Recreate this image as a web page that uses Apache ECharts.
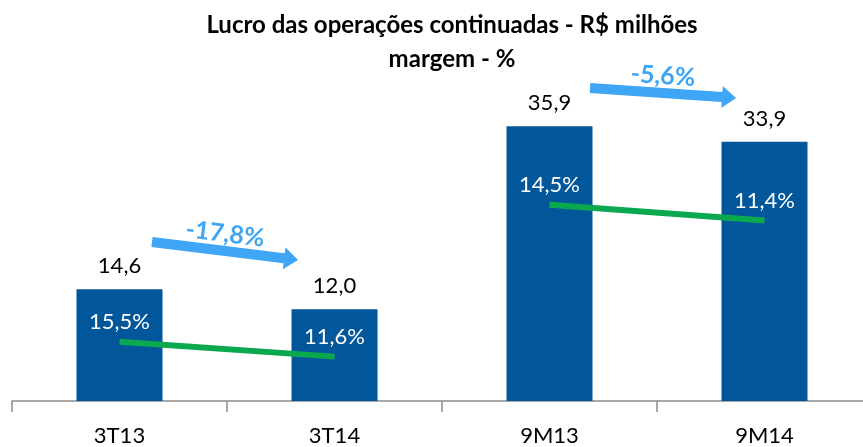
<!DOCTYPE html>
<html>
<head>
<meta charset="utf-8">
<script src="https://cdn.jsdelivr.net/npm/echarts@6/dist/echarts.min.js"></script>
<style>
  html, body { margin: 0; padding: 0; background: #fff; overflow: hidden; }
  #chart { width: 872px; height: 447px; }
</style>
</head>
<body>
<div id="chart"></div>
<script>
// dados
var categorias = ['3T13', '3T14', '9M13', '9M14'];
var lucro = [14.6, 12.0, 35.9, 33.9];
var margemTrimestre = [15.5, 11.6, '-', '-'];
var margemNoveMeses = ['-', '-', 14.5, 11.4];

var fonte = 'Lato, "Noto Sans", sans-serif';
var azulSeta = '#3ea6f5';

function fmt(v, casas) {
  return v.toFixed(casas).replace('.', ',');
}
function variacao(a, b) {
  return fmt((b / a - 1) * 100, 1) + '%';
}

// seta desenhada como poligono horizontal e depois rotacionada
function seta(x1, y1, x2, y2, texto) {
  var dx = x2 - x1, dy = y2 - y1;
  var len = Math.sqrt(dx * dx + dy * dy);
  var ang = -Math.atan2(dy, dx);
  var haste = 5, cabeca = 11, ponta = 14;
  return [
    {
      type: 'polygon',
      x: x1, y: y1,
      rotation: ang,
      shape: {
        points: [
          [0, -haste], [len - ponta, -haste], [len - ponta, -cabeca], [len, 0],
          [len - ponta, cabeca], [len - ponta, haste], [0, haste]
        ]
      },
      style: { fill: azulSeta }
    },
    {
      type: 'text',
      x: (x1 + x2) / 2, y: (y1 + y2) / 2 - 17,
      rotation: ang,
      style: {
        text: texto,
        align: 'center',
        verticalAlign: 'middle',
        fill: azulSeta,
        font: 'bold 25px ' + fonte
      }
    }
  ];
}

var myChart = echarts.init(document.getElementById('chart'));

var rotuloMargem = {
  show: true,
  position: 'top',
  distance: 9,
  color: '#fff',
  fontSize: 22,
  fontFamily: fonte,
  formatter: function (p) { return fmt(p.value, 1) + '%'; }
};

var option = {
  animation: false,
  grid: { left: 12, top: 95, width: 860, height: 307 },
  xAxis: {
    type: 'category',
    data: categorias,
    axisLine: { lineStyle: { color: '#8c8c8c', width: 1.5 } },
    axisTick: { show: true, length: 11, lineStyle: { color: '#8c8c8c', width: 1.5 } },
    axisLabel: { color: '#000', fontSize: 22, fontFamily: fonte, margin: 24 }
  },
  yAxis: [
    { type: 'value', min: 0, max: 40, show: false },
    { type: 'value', min: 0, max: 80, show: false },
    { type: 'value', min: -24, max: 36, show: false }
  ],
  series: [
    {
      type: 'bar',
      data: lucro,
      barWidth: 86,
      itemStyle: { color: '#02579a' },
      label: {
        show: true,
        position: 'top',
        distance: 12,
        color: '#000',
        fontSize: 22,
        fontFamily: fonte,
        formatter: function (p) { return fmt(p.value, 1); }
      }
    },
    {
      type: 'line',
      yAxisIndex: 1,
      data: margemTrimestre,
      symbol: 'circle',
      symbolSize: 0,
      lineStyle: { color: '#0aa84f', width: 6 },
      itemStyle: { color: '#0aa84f' },
      label: rotuloMargem
    },
    {
      type: 'line',
      yAxisIndex: 2,
      data: margemNoveMeses,
      symbol: 'circle',
      symbolSize: 0,
      lineStyle: { color: '#0aa84f', width: 6 },
      itemStyle: { color: '#0aa84f' },
      label: rotuloMargem
    }
  ],
  graphic: [
    {
      type: 'text',
      x: 452, y: 8,
      style: {
        text: 'Lucro das operações continuadas - R$ milhões\nmargem - %',
        align: 'center',
        fill: '#000',
        font: 'bold 24px ' + fonte,
        lineHeight: 34
      }
    }
  ]
    .concat(seta(152, 242, 298, 260, variacao(lucro[0], lucro[1])))
    .concat(seta(590, 88, 736, 98, variacao(lucro[2], lucro[3])))
};

myChart.setOption(option);
</script>
</body>
</html>
